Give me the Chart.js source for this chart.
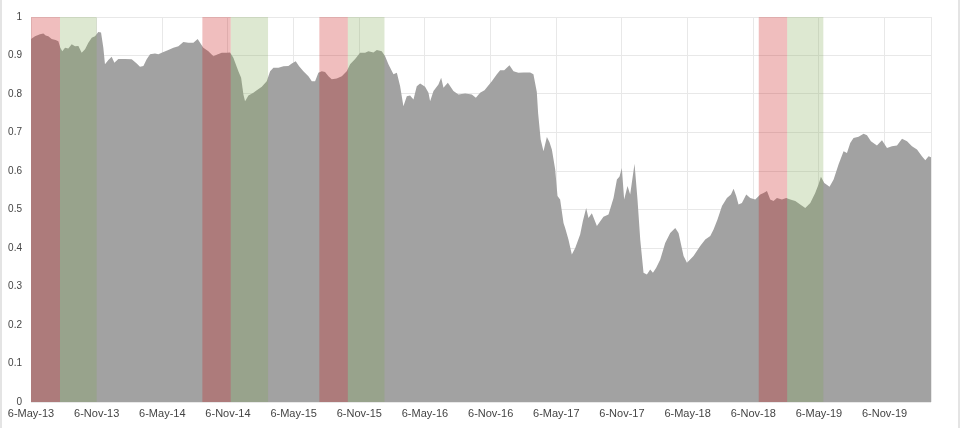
<!DOCTYPE html>
<html lang="en">
<head>
    <meta charset="UTF-8">
    <title>Area chart with shaded periods</title>
    <script src="https://cdn.jsdelivr.net/npm/chart.js"></script>
    <style>
        body { margin: 0; background: #fff; }
        .chart-wrap {
            position: relative;
            width: 960px;
            height: 428px;
            box-shadow: inset 2px 0 #e4e4e4, inset -2px 0 #e4e4e4;
        }
    </style>
</head>
<body>
    <div class="chart-wrap">
        <canvas id="areaChart"></canvas>
    </div>

    <script>
        // x positions in months after 6-May-13
        const months = [
            0, 0.37, 0.82, 1.13, 1.34, 1.58, 1.89, 2.25, 2.50, 2.68,
            2.86, 3.11, 3.41, 3.72, 4.02, 4.33, 4.63, 4.94, 5.24, 5.55,
            5.85, 6.15, 6.40, 6.61, 6.76, 7.07, 7.37, 7.62, 7.98, 8.59,
            9.20, 9.66, 9.96, 10.27, 10.57, 10.88, 11.33, 11.64, 11.94, 12.55,
            13.01, 13.47, 13.92, 14.38, 14.84, 15.23, 15.45, 15.75, 16.21, 16.67,
            16.97, 17.43, 17.89, 18.19, 18.49, 18.95, 19.20, 19.41, 19.56, 19.87,
            20.32, 20.63, 21.09, 21.54, 21.85, 22.15, 22.61, 23.07, 23.52, 23.83,
            24.19, 24.50, 24.89, 25.35, 25.66, 25.96, 26.26, 26.57, 26.87, 27.18,
            27.48, 27.94, 28.40, 28.85, 29.16, 29.62, 30.07, 30.53, 30.83, 31.29,
            31.60, 32.05, 32.36, 32.66, 33.12, 33.43, 33.73, 34.03, 34.34, 34.64,
            34.95, 35.25, 35.56, 36.01, 36.32, 36.47, 36.78, 37.23, 37.48, 37.69,
            38.09, 38.60, 39.06, 39.67, 40.28, 40.65, 41.04, 41.44,
            42.11, 42.57, 42.87, 43.24, 43.72, 44.09, 44.54, 45.00, 45.61, 45.91,
            46.22, 46.34, 46.57, 46.83, 47.14, 47.38, 47.60, 47.90, 48.11, 48.35,
            48.66, 48.81, 49.11, 49.42, 49.73, 50.18, 50.43, 50.73, 50.94, 51.25,
            51.71, 52.31, 52.77, 53.23, 53.54, 53.78, 53.99, 54.20, 54.51, 54.75,
            55.15, 55.42, 55.67, 55.97, 56.28, 56.58, 56.83, 57.13, 57.50, 57.95,
            58.41, 58.87, 59.17, 59.63, 59.94, 60.54, 61.15, 61.61, 62.07, 62.37,
            62.73, 63.14, 63.59, 63.96, 64.20, 64.44, 64.65, 64.96, 65.36, 65.72,
            66.18, 66.64, 66.94, 67.25, 67.55, 67.85, 68.16, 68.62, 69.01, 69.38,
            69.84, 70.29, 70.75, 71.21, 71.66, 71.96, 72.18, 72.49, 72.97, 73.34,
            73.79, 74.25, 74.56, 74.86, 75.16, 75.62, 76.08, 76.39, 76.75, 77.30,
            77.76, 78.22, 78.67, 79.13, 79.59, 80.05, 80.50, 80.96, 81.41, 81.72,
            82.02, 82.24
        ];

        const values = [
            0.943, 0.950, 0.955, 0.957, 0.952, 0.950, 0.943, 0.940, 0.937, 0.920,
            0.911, 0.920, 0.918, 0.929, 0.924, 0.925, 0.907, 0.916, 0.933, 0.946,
            0.950, 0.961, 0.960, 0.920, 0.877, 0.888, 0.897, 0.881, 0.891, 0.891,
            0.890, 0.879, 0.871, 0.873, 0.890, 0.903, 0.905, 0.903, 0.907, 0.914,
            0.920, 0.924, 0.935, 0.933, 0.933, 0.943, 0.933, 0.920, 0.911, 0.898,
            0.902, 0.907, 0.907, 0.908, 0.894, 0.859, 0.842, 0.799, 0.781, 0.796,
            0.803, 0.810, 0.819, 0.833, 0.859, 0.868, 0.868, 0.872, 0.873, 0.879,
            0.885, 0.872, 0.859, 0.846, 0.833, 0.833, 0.855, 0.859, 0.857, 0.846,
            0.838, 0.840, 0.846, 0.859, 0.877, 0.891, 0.907, 0.907, 0.911, 0.908,
            0.914, 0.911, 0.898, 0.877, 0.851, 0.855, 0.820, 0.768, 0.794, 0.796,
            0.786, 0.820, 0.827, 0.819, 0.803, 0.781, 0.808, 0.825, 0.842, 0.816,
            0.829, 0.808, 0.799, 0.801, 0.799, 0.790, 0.803, 0.810,
            0.833, 0.851, 0.862, 0.862, 0.875, 0.859, 0.855, 0.856, 0.856, 0.851,
            0.805, 0.750, 0.682, 0.651, 0.688, 0.675, 0.655, 0.604, 0.535, 0.526,
            0.465, 0.452, 0.422, 0.383, 0.400, 0.435, 0.470, 0.504, 0.478, 0.490,
            0.457, 0.481, 0.487, 0.530, 0.578, 0.586, 0.608, 0.526, 0.561, 0.539,
            0.619, 0.526, 0.422, 0.336, 0.331, 0.344, 0.336, 0.349, 0.370, 0.413,
            0.439, 0.452, 0.439, 0.379, 0.362, 0.379, 0.405, 0.422, 0.431, 0.448,
            0.474, 0.509, 0.530, 0.539, 0.554, 0.535, 0.513, 0.517, 0.539, 0.530,
            0.526, 0.539, 0.543, 0.548, 0.526, 0.522, 0.530, 0.526, 0.530, 0.526,
            0.522, 0.513, 0.504, 0.517, 0.543, 0.565, 0.585, 0.569, 0.559, 0.578,
            0.617, 0.651, 0.647, 0.673, 0.686, 0.689, 0.697, 0.693, 0.677, 0.666,
            0.680, 0.660, 0.664, 0.666, 0.684, 0.677, 0.664, 0.656, 0.638, 0.628,
            0.638, 0.636
        ];

        const tickLabels = [
            '6-May-13', '6-Nov-13', '6-May-14', '6-Nov-14', '6-May-15', '6-Nov-15', '6-May-16',
            '6-Nov-16', '6-May-17', '6-Nov-17', '6-May-18', '6-Nov-18', '6-May-19', '6-Nov-19'
        ];
        const tickStepMonths = 6;
        const lastMonth = 82.24;

        // shaded periods, [start, end] in months
        const redBands = [[0, 2.65], [15.66, 18.25], [26.35, 28.95], [66.5, 69.1]];
        const greenBands = [[2.65, 6.0], [18.25, 21.66], [28.95, 32.3], [69.1, 72.4]];

        const bandsPlugin = {
            id: 'bands',
            afterDatasetsDraw(chart) {
                const { ctx, chartArea, scales } = chart;
                const paint = (bands, color) => {
                    ctx.fillStyle = color;
                    bands.forEach(([a, b]) => {
                        const x1 = scales.x.getPixelForValue(a);
                        const x2 = scales.x.getPixelForValue(b);
                        ctx.fillRect(x1, chartArea.top, x2 - x1, chartArea.bottom - chartArea.top);
                    });
                };
                ctx.save();
                paint(redBands, 'rgba(202, 20, 20, 0.28)');
                paint(greenBands, 'rgba(122, 167, 76, 0.26)');
                ctx.restore();
            }
        };

        const tickFont = { family: 'Liberation Sans, Arial, sans-serif', size: 11 };

        new Chart(document.getElementById('areaChart'), {
            type: 'line',
            data: {
                datasets: [{
                    data: months.map((m, i) => ({ x: m, y: values[i] })),
                    backgroundColor: '#a2a2a2',
                    borderWidth: 0,
                    pointRadius: 0,
                    fill: 'origin',
                    tension: 0
                }]
            },
            options: {
                responsive: true,
                maintainAspectRatio: false,
                animation: false,
                layout: { padding: { top: 17, right: 29, bottom: 0, left: 0 } },
                plugins: {
                    legend: { display: false },
                    tooltip: { enabled: false }
                },
                scales: {
                    x: {
                        type: 'linear',
                        min: 0,
                        max: lastMonth,
                        border: { display: false },
                        grid: { color: '#e8e8e8', drawTicks: false },
                        afterFit(scale) { scale.height = 26; },
                        afterBuildTicks(scale) {
                            scale.ticks = tickLabels.map((_, i) => ({ value: i * tickStepMonths }))
                                .concat([{ value: lastMonth }]);
                        },
                        ticks: {
                            autoSkip: false,
                            maxRotation: 0,
                            padding: 5,
                            color: '#444',
                            font: tickFont,
                            callback: (value, index) => tickLabels[index] || ''
                        }
                    },
                    y: {
                        min: 0,
                        max: 1,
                        border: { display: false },
                        grid: { color: '#e8e8e8', drawTicks: false },
                        afterFit(scale) { scale.width = 31; },
                        ticks: {
                            stepSize: 0.1,
                            padding: 9,
                            color: '#444',
                            font: { ...tickFont, size: 10 },
                            callback: value => String(Math.round(value * 10) / 10)
                        }
                    }
                }
            },
            plugins: [bandsPlugin]
        });
    </script>
</body>
</html>
